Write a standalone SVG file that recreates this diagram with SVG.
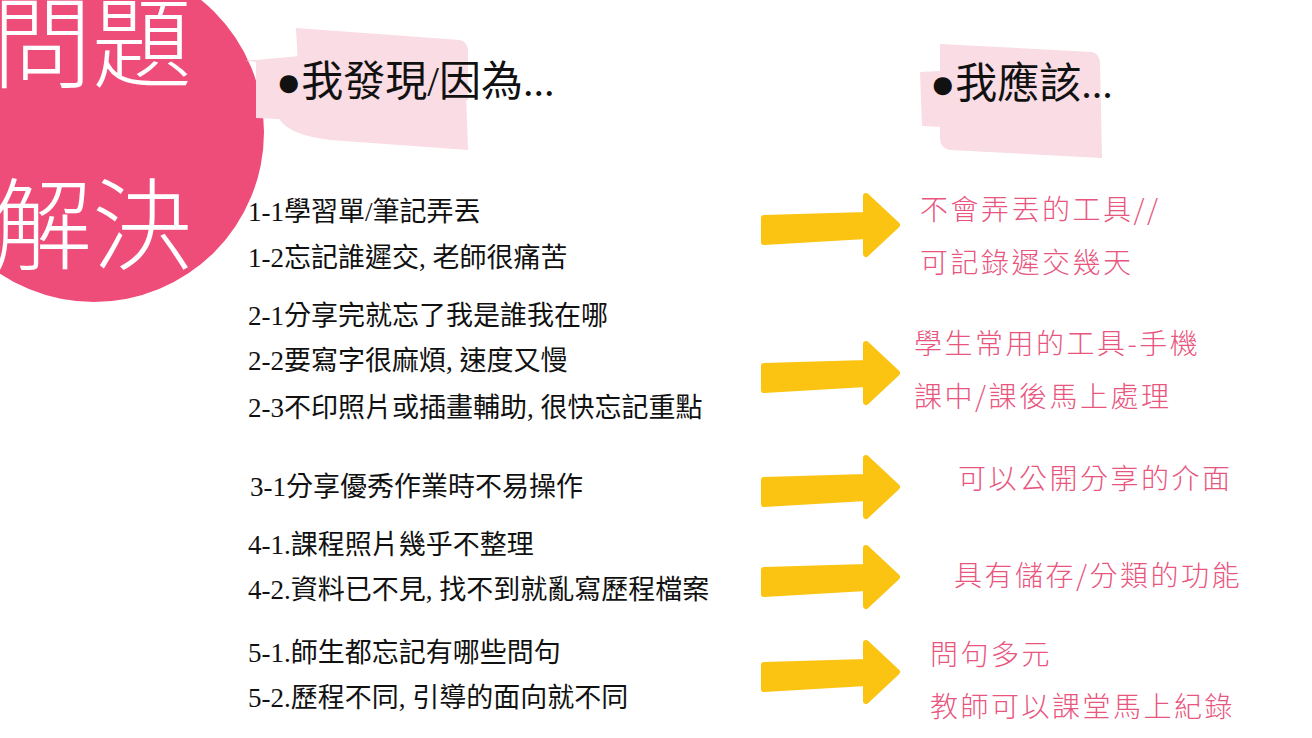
<svg xmlns="http://www.w3.org/2000/svg" width="1312" height="738" viewBox="0 0 1312 738">
<defs>
<style>
.l{font-family:"Liberation Serif","Noto Sans CJK TC",serif;font-size:27px;fill:#111}
.r{font-family:"Noto Sans CJK TC",sans-serif;font-size:28px;letter-spacing:2.5px;fill:#e8557e;font-weight:300}
.h{font-family:"Liberation Serif","Noto Sans CJK TC",serif;font-size:42px;fill:#111}
.big{font-family:"Liberation Serif","Noto Sans CJK TC",serif;font-size:100px;fill:#fff;font-weight:300}
.hl{fill:#f9dce4}
.arr{fill:#fbc312;stroke:#fbc312;stroke-width:6;stroke-linejoin:round}
</style>
<path id="a" d="M0,10 L102,7 L102,-12 L133,17 L102,46 L102,28 L0,34 Z"/>
</defs>
<rect width="1312" height="738" fill="#fff"/>
<g id="title">
<circle cx="94" cy="132" r="170" fill="#ee4d7a"/>
<text class="big" x="-8" y="80">問題</text>
<text class="big" x="-8" y="262">解決</text>
</g>
<g id="header-left">
<path class="hl" d="M296,28 L460,40 Q468,42 468,52 L468,100 L300,100 Z M245,60 L465,62 L468,150 L330,140 Q290,135 280,120 L270,65 Z"/>
<path class="hl" d="M256,60 L300,56 L300,120 L256,118 Z"/>
<text class="h" x="276" y="96">●我發現/因為...</text>
</g>
<g id="header-right">
<path class="hl" d="M940,44 L1092,52 Q1100,54 1100,64 L1102,158 L950,150 Q940,148 940,138 Z"/>
<path class="hl" d="M920,72 L960,70 L960,128 L922,126 Z"/>
<text class="h" x="930" y="98">●我應該...</text>
</g>
<g id="items-left">
<text class="l" x="248" y="221">1-1學習單/筆記弄丟</text>
<text class="l" x="248" y="267">1-2忘記誰遲交, 老師很痛苦</text>
<text class="l" x="248" y="325">2-1分享完就忘了我是誰我在哪</text>
<text class="l" x="248" y="370">2-2要寫字很麻煩, 速度又慢</text>
<text class="l" x="248" y="417">2-3不印照片或插畫輔助, 很快忘記重點</text>
<text class="l" x="250" y="496">3-1分享優秀作業時不易操作</text>
<text class="l" x="248" y="554">4-1.課程照片幾乎不整理</text>
<text class="l" x="248" y="599">4-2.資料已不見, 找不到就亂寫歷程檔案</text>
<text class="l" x="248" y="662">5-1.師生都忘記有哪些問句</text>
<text class="l" x="248" y="707">5-2.歷程不同, 引導的面向就不同</text>
</g>
<g id="connectors">
<use href="#a" class="arr" x="764" y="208"/>
<use href="#a" class="arr" x="764" y="356"/>
<use href="#a" class="arr" x="764" y="470"/>
<use href="#a" class="arr" x="764" y="560"/>
<use href="#a" class="arr" x="764" y="655"/>
</g>
<g id="items-right">
<text class="r" x="920" y="220">不會弄丟的工具//</text>
<text class="r" x="920" y="273">可記錄遲交幾天</text>
<text class="r" x="914" y="354">學生常用的工具-手機</text>
<text class="r" x="914" y="407">課中/課後馬上處理</text>
<text class="r" x="958" y="489">可以公開分享的介面</text>
<text class="r" x="954" y="586">具有儲存/分類的功能</text>
<text class="r" x="930" y="665">問句多元</text>
<text class="r" x="930" y="717">教師可以課堂馬上紀錄</text>
</g>
</svg>
